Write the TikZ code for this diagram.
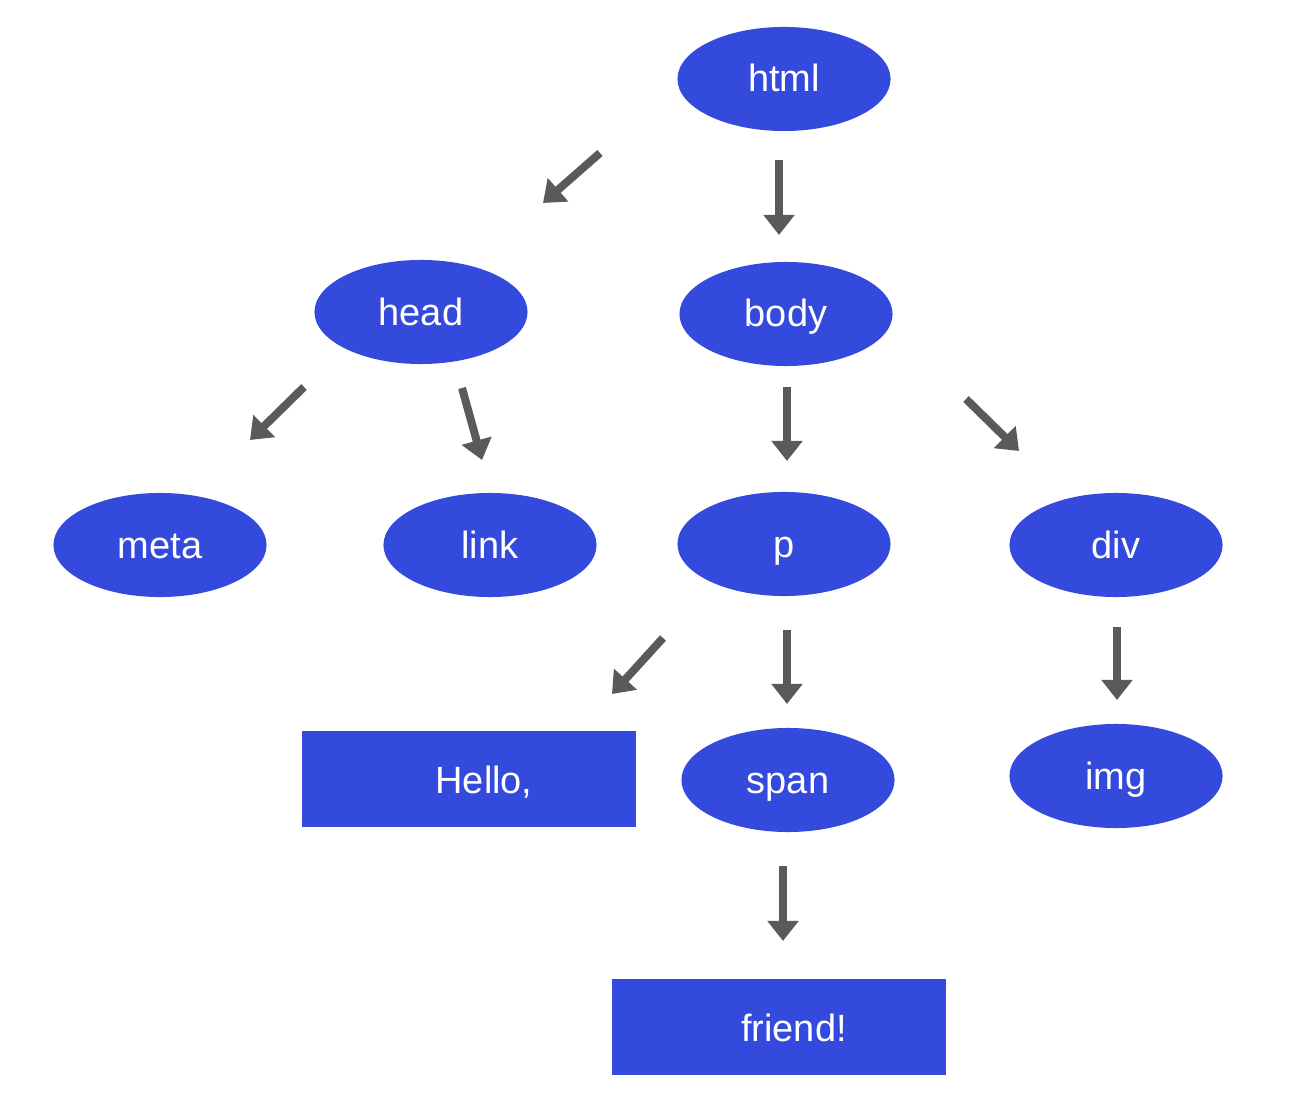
\documentclass[tikz,border=0pt]{standalone}
\usepackage{fontspec}
\setsansfont{Liberation Sans}
\usetikzlibrary{arrows.meta,shapes.geometric}
\definecolor{tagblue}{RGB}{51,74,221}
\definecolor{arrgray}{RGB}{90,90,90}

\begin{document}
\begin{tikzpicture}[x=0.01cm, y=-0.01cm,
    tag/.style={ellipse, fill=tagblue, text=white, inner sep=0pt,
        minimum width=2.13cm, minimum height=1.04cm,
        text height=0.34cm, text depth=0.08cm,
        font=\sffamily\fontsize{10.8}{13}\selectfont},
    txt/.style={rectangle, fill=tagblue, text=white, inner sep=0pt,
        minimum width=3.33cm, minimum height=0.95cm,
        text height=0.34cm, text depth=0.06cm,
        font=\sffamily\fontsize{10.8}{13}\selectfont},
    arr/.style={-{Triangle[width=0.3cm, length=0.2cm]}, line width=0.08cm, arrgray}]
    \useasboundingbox (0,0) rectangle (1304,1104);

    % element nodes
    \node[tag] (html) at (784,79) {html};
    \node[tag] (head) at (421,312) {head};
    \node[tag] (body) at (786,314) {body};
    \node[tag] (meta) at (160,545) {meta};
    \node[tag] (link) at (490,545) {link};
    \node[tag] (p)    at (784,544) {p};
    \node[tag] (div)  at (1116,545) {div};
    \node[tag] (span) at (788,780) {span};
    \node[tag] (img)  at (1116,776) {img};

    % text nodes
    \node[txt] (hello)  at (469,779) {\hspace*{0.3cm}Hello,};
    \node[txt] (friend) at (779,1027) {\hspace*{0.3cm}friend!};

    % arrow ends
    \coordinate (html-head-a) at (600,153);  \coordinate (html-head-b) at (543,203);
    \coordinate (html-body-a) at (779,160);  \coordinate (html-body-b) at (779,235);
    \coordinate (head-meta-a) at (304,387);  \coordinate (head-meta-b) at (250,440);
    \coordinate (head-link-a) at (462,388);  \coordinate (head-link-b) at (482,460);
    \coordinate (body-p-a)    at (787,387);  \coordinate (body-p-b)    at (787,461);
    \coordinate (body-div-a)  at (966,399);  \coordinate (body-div-b)  at (1019,451);
    \coordinate (p-hello-a)   at (663,638);  \coordinate (p-hello-b)   at (612,694);
    \coordinate (p-span-a)    at (787,630);  \coordinate (p-span-b)    at (787,704);
    \coordinate (div-img-a)   at (1117,627); \coordinate (div-img-b)   at (1117,700);
    \coordinate (span-fr-a)   at (783,866);  \coordinate (span-fr-b)   at (783,941);

    % arrows
    \foreach \e in {html-head,html-body,head-meta,head-link,body-p,body-div,p-hello,p-span,div-img,span-fr}
        \draw[arr] (\e-a) -- (\e-b);
\end{tikzpicture}
\end{document}
